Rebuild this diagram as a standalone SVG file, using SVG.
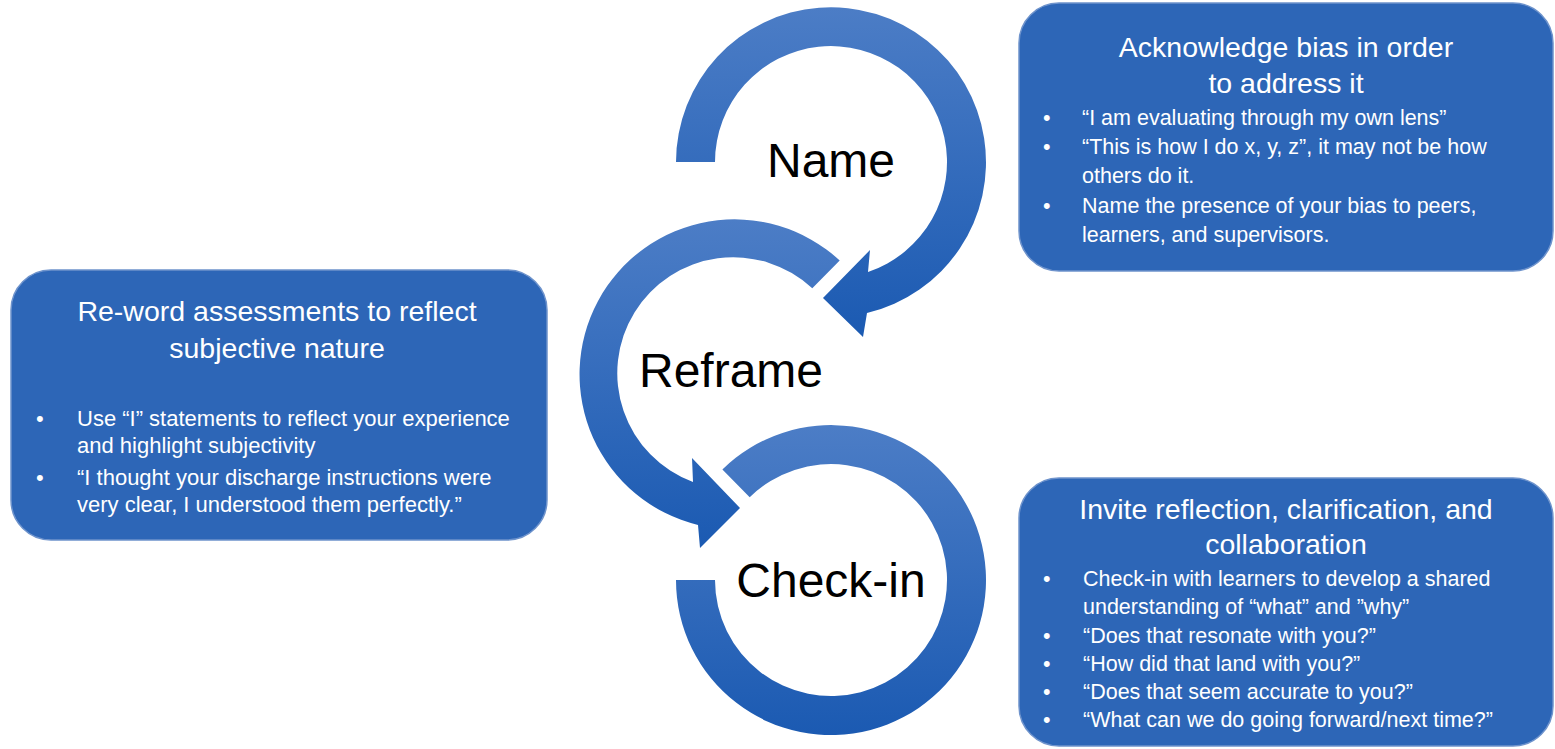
<svg xmlns="http://www.w3.org/2000/svg" width="1555" height="749" viewBox="0 0 1555 749">
  <style>
    .ring { fill: url(#ringGrad); }
    .box { fill: #2D66B7; stroke: #6E93CC; stroke-width: 1.5; }
    .lbl { font-family: "Liberation Sans", Arial, sans-serif; font-size: 48px; fill: #000; text-anchor: middle; }
    .title { font-family: "Liberation Sans", Arial, sans-serif; font-size: 28.5px; fill: #fff; text-anchor: middle; }
    .txt { font-family: "Liberation Sans", Arial, sans-serif; font-size: 21.5px; fill: #fff; }
    .txtL { font-family: "Liberation Sans", Arial, sans-serif; font-size: 22px; fill: #fff; }
  </style>
  <defs>
    <linearGradient id="ringGrad" x1="0" y1="0" x2="0" y2="1">
      <stop offset="0" stop-color="#4C7DC6"/>
      <stop offset="1" stop-color="#1B5AB2"/>
    </linearGradient>
  </defs>
  <rect width="1555" height="749" fill="#fff"/>

  <g id="connectors">
    <!-- Name ring with arrowhead -->
    <path class="ring" d="M676,162 A155,155 0 1 1 867,313 L863,337 L823,298 L870,250 L868,272 A116,116 0 1 0 715,162 Z"/>
    <!-- Reframe ring with arrowhead -->
    <path class="ring" d="M839.7,260.5 A155,155 0 1 0 698,525 L700,548 L740,508 L692,458 L693,482 A116,116 0 1 1 812.3,288.3 Z"/>
    <!-- Check-in ring -->
    <path class="ring" d="M676,580 A155,155 0 1 0 722.4,469.5 L749.7,497.3 A116,116 0 1 1 715,580 Z"/>
  </g>

  <g id="node-name">
    <text class="lbl" x="831" y="177">Name</text>
  </g>
  <g id="node-reframe">
    <text class="lbl" x="731" y="387">Reframe</text>
  </g>
  <g id="node-checkin">
    <text class="lbl" x="831" y="597">Check-in</text>
  </g>

  <g id="node-acknowledge">
    <rect class="box" x="1019" y="3" width="534" height="268" rx="40"/>
    <text class="title" x="1286" y="57">Acknowledge bias in order</text>
    <text class="title" x="1286" y="93">to address it</text>
    <text class="txt" x="1043" y="125">•</text>
    <text class="txt" x="1082" y="125">“I am evaluating through my own lens”</text>
    <text class="txt" x="1043" y="154">•</text>
    <text class="txt" x="1082" y="154">“This is how I do x, y, z”, it may not be how</text>
    <text class="txt" x="1082" y="183">others do it.</text>
    <text class="txt" x="1043" y="213">•</text>
    <text class="txt" x="1082" y="213">Name the presence of your bias to peers,</text>
    <text class="txt" x="1082" y="242">learners, and supervisors.</text>
  </g>

  <g id="node-reword">
    <rect class="box" x="11" y="270" width="536" height="270" rx="40"/>
    <text class="title" x="277" y="321">Re-word assessments to reflect</text>
    <text class="title" x="277" y="358">subjective nature</text>
    <text class="txtL" x="36" y="426">•</text>
    <text class="txtL" x="77" y="426">Use “I” statements to reflect your experience</text>
    <text class="txtL" x="77" y="453">and highlight subjectivity</text>
    <text class="txtL" x="36" y="485">•</text>
    <text class="txtL" x="77" y="485">“I thought your discharge instructions were</text>
    <text class="txtL" x="77" y="512">very clear, I understood them perfectly.”</text>
  </g>

  <g id="node-invite">
    <rect class="box" x="1019" y="478" width="534" height="268" rx="40"/>
    <text class="title" x="1286" y="519">Invite reflection, clarification, and</text>
    <text class="title" x="1286" y="554">collaboration</text>
    <text class="txt" x="1043" y="586">•</text>
    <text class="txt" x="1083" y="586">Check-in with learners to develop a shared</text>
    <text class="txt" x="1083" y="614">understanding of “what” and ”why”</text>
    <text class="txt" x="1043" y="643">•</text>
    <text class="txt" x="1083" y="643">“Does that resonate with you?”</text>
    <text class="txt" x="1043" y="671">•</text>
    <text class="txt" x="1083" y="671">“How did that land with you?”</text>
    <text class="txt" x="1043" y="699">•</text>
    <text class="txt" x="1083" y="699">“Does that seem accurate to you?”</text>
    <text class="txt" x="1043" y="727">•</text>
    <text class="txt" x="1083" y="727">“What can we do going forward/next time?”</text>
  </g>
</svg>
